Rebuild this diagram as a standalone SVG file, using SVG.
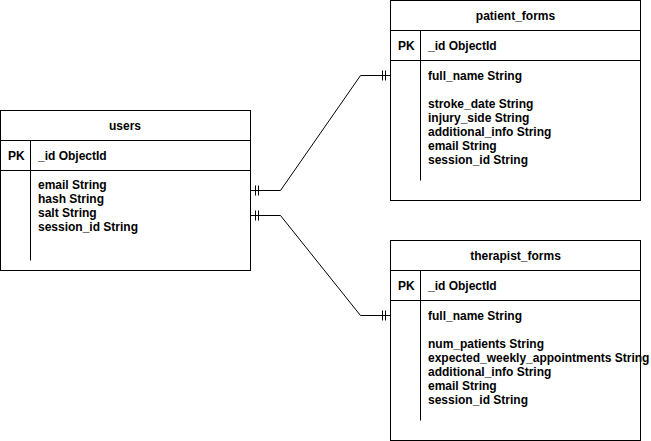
<svg xmlns="http://www.w3.org/2000/svg" width="651" height="441" viewBox="0 0 651 441">
<style>
.box{fill:#fff;stroke:#000;stroke-width:1}
.ln{fill:none;stroke:#000;stroke-width:1}
text{font-family:"Liberation Sans",Arial,Helvetica,sans-serif;font-size:12px;font-weight:bold;fill:#000}
.t{text-anchor:middle}
</style>
<rect width="651" height="441" fill="#fff"/>
<g id="connectors">
<path class="ln" d="M250.5 190.5H280.5L360.5 75.5H390.5"/>
<path class="ln" d="M255.5 185.5V195.5M258.5 185.5V195.5M382.5 70.5V80.5M385.5 70.5V80.5"/>
<path class="ln" d="M250.5 215.5H280.5L360.5 315.5H390.5"/>
<path class="ln" d="M255.5 210.5V220.5M258.5 210.5V220.5M382.5 310.5V320.5M385.5 310.5V320.5"/>
</g>
<g id="users">
<rect class="box" x="0.5" y="110.5" width="250" height="160"/>
<path class="ln" d="M0.5 140.5H250.5M0.5 170.5H250.5M30.5 140.5V260.5"/>
<text class="t" x="125" y="130">users</text>
<text x="8" y="160">PK</text>
<text x="38" y="160">_id ObjectId</text>
<text x="38" y="188.5">email String</text>
<text x="38" y="202.5">hash String</text>
<text x="38" y="216.5">salt String</text>
<text x="38" y="230.5">session_id String</text>
</g>
<g id="patient_forms">
<rect class="box" x="390.5" y="0.5" width="250" height="200"/>
<path class="ln" d="M390.5 30.5H640.5M390.5 60.5H640.5M420.5 30.5V180.5"/>
<text class="t" x="515.5" y="20">patient_forms</text>
<text x="398" y="50">PK</text>
<text x="428" y="50">_id ObjectId</text>
<text x="428" y="79.5">full_name String</text>
<text x="428" y="108">stroke_date String</text>
<text x="428" y="122">injury_side String</text>
<text x="428" y="136">additional_info String</text>
<text x="428" y="150">email String</text>
<text x="428" y="164">session_id String</text>
</g>
<g id="therapist_forms">
<rect class="box" x="390.5" y="240.5" width="250" height="200"/>
<path class="ln" d="M390.5 270.5H640.5M390.5 300.5H640.5M420.5 270.5V420.5"/>
<text class="t" x="515.5" y="260">therapist_forms</text>
<text x="398" y="290">PK</text>
<text x="428" y="290">_id ObjectId</text>
<text x="428" y="320">full_name String</text>
<text x="428" y="348">num_patients String</text>
<text x="428" y="362">expected_weekly_appointments String</text>
<text x="428" y="376">additional_info String</text>
<text x="428" y="390">email String</text>
<text x="428" y="404">session_id String</text>
</g>
</svg>
